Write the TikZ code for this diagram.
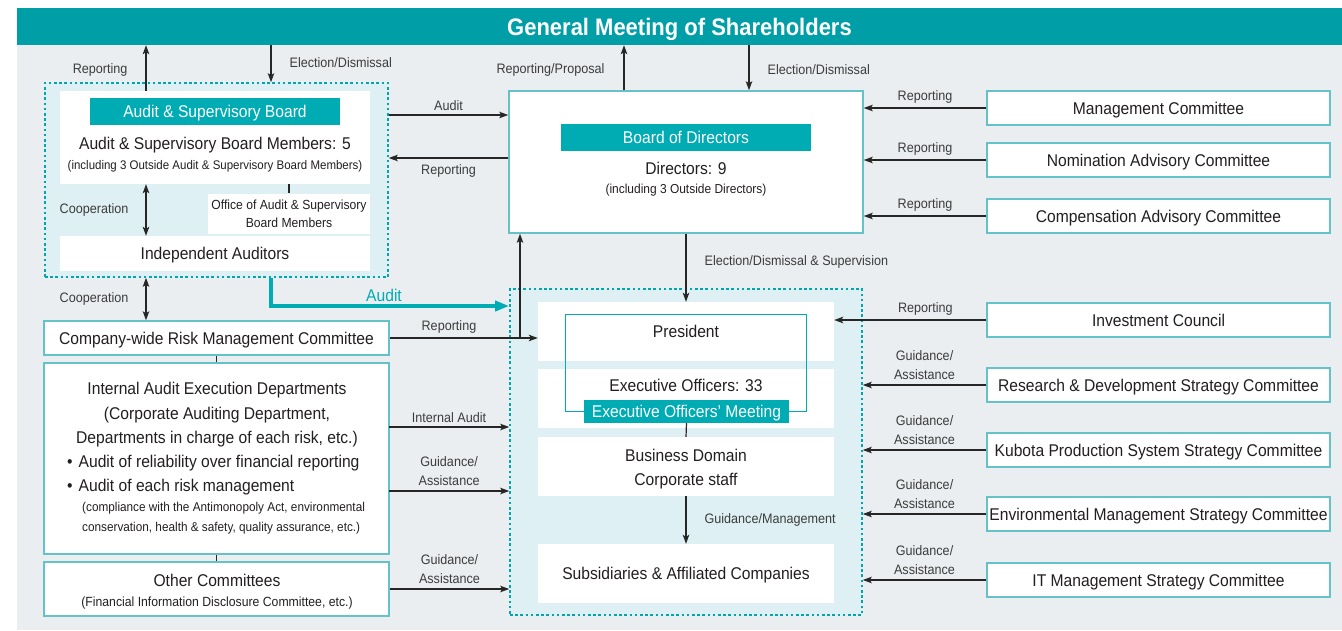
\documentclass[tikz,border=0pt]{standalone}
\usepackage{fontspec}
\setmainfont{Liberation Sans}[FakeStretch=0.92]
\usepackage{tikz}
\usetikzlibrary{arrows.meta, positioning}
\definecolor{bannerteal}{RGB}{0,158,167}
\definecolor{labelteal}{RGB}{0,172,180}
\definecolor{dashteal}{RGB}{0,166,173}
\definecolor{groupfill}{RGB}{222,240,243}
\definecolor{boxline}{RGB}{100,195,201}
\definecolor{bggray}{RGB}{235,238,241}
\definecolor{txtgray}{RGB}{60,60,60}
\definecolor{txtdark}{RGB}{35,31,32}
\newcommand{\txtmain}{\fontsize{17}{24}\selectfont}
\newcommand{\txtlabel}{\fontsize{13.7}{19}\selectfont}
\newcommand{\txtsmall}{\fontsize{13}{20}\selectfont}

\begin{document}
\begin{tikzpicture}[x=1pt, y=-1pt,
    >={Stealth[length=9pt,width=6.5pt,inset=2pt]},
    box/.style={draw=boxline, line width=1.5pt, fill=white, inner sep=0pt, text=txtdark, font=\txtmain,
        align=center, text height=16.5pt, text depth=3.6pt},
    plain/.style={fill=white, inner sep=0pt, text=txtdark, font=\txtmain, align=center,
        text height=16.5pt, text depth=3.6pt},
    grp/.style={draw=dashteal, fill=groupfill, line width=1.6pt, dash pattern=on 2.6pt off 2.6pt, inner sep=0pt},
    tag/.style={fill=labelteal, text=white, font=\txtmain, inner sep=0pt, text height=16pt, text depth=3.6pt},
    txt/.style={inner sep=0pt, text=txtdark, font=\txtmain, text height=16.5pt, text depth=3.6pt},
    smalltxt/.style={inner sep=0pt, text=txtdark, font=\txtsmall, text height=13pt, text depth=3pt},
    lbl/.style={inner sep=0pt, text=txtgray, font=\txtlabel, align=center},
    arr/.style={->, line width=1.2pt, draw=black!85},
    dbl/.style={<->, line width=1.2pt, draw=black!85},
    link/.style={line width=1.2pt, draw=black!85},
    audit/.style={-{Triangle[length=14pt,width=10pt]}, line width=3.5pt, draw=labelteal}]
    \useasboundingbox (0,0) rectangle (1342,630);
    % Background and banner
    \fill[bggray] (17,8) rectangle (1342,630);
    \node[fill=bannerteal, minimum width=1325pt, minimum height=37pt, inner sep=0pt, text=white,
        font=\fontsize{23.9}{24}\selectfont\bfseries, text height=23pt, text depth=5pt] (gms) at (679.5,26.5)
        {General Meeting of Shareholders};

    % Columns and rows for connectors
    \coordinate (colA) at (146,0);
    \coordinate (colB) at (271,0);
    \coordinate (colC) at (520,0);
    \coordinate (colD) at (624,0);
    \coordinate (colE) at (749,0);
    \coordinate (audrow) at (0,115);
    \coordinate (reprow) at (0,158);
    \coordinate (audline) at (0,306);
    \coordinate (iaA) at (389,427);
    \coordinate (iaG) at (389,491);

    % Audit & Supervisory Board group
    \node[grp, minimum width=343pt, minimum height=194pt] (asgrp) at (216.5,180) {};
    \node[plain, minimum width=310pt, minimum height=93pt] (asb) at (215,137.5) {};
    \node[tag, minimum width=250pt, minimum height=27pt] (asbtag) at (215,111.5) {Audit \& Supervisory Board};
    \node[txt] (asbnum) at (215,143) {Audit \& Supervisory Board Members: 5};
    \node[smalltxt, font=\fontsize{12.5}{20}\selectfont] (asbout) at (215,164) {(including 3 Outside Audit \& Supervisory Board Members)};
    \node[fill=white, inner sep=0pt, text=txtdark, align=center, minimum width=162pt, minimum height=40pt,
        font=\fontsize{13.2}{18}\selectfont] (office) at (289,213.5) {Office of Audit \& Supervisory\\Board Members};
    \node[plain, minimum width=310pt, minimum height=35pt] (indep) at (215,253.5) {Independent Auditors};

    % Board of Directors
    \node[box, minimum width=354pt, minimum height=142pt] (bod) at (686,162) {};
    \node[tag, minimum width=250pt, minimum height=27pt] (bodtag) at (686,137.5) {Board of Directors};
    \node[txt] (bodnum) at (686,168) {Directors: 9};
    \node[smalltxt] (bodout) at (686,188) {(including 3 Outside Directors)};

    % Execution group
    \node[grp, minimum width=352pt, minimum height=326pt] (exgrp) at (686,452) {};
    \node[plain, minimum width=296pt, minimum height=59pt] (pres) at (686,331.5) {President};
    \node[plain, minimum width=296pt, minimum height=59pt] (exo) at (686,398.5) {};
    \node[draw=labelteal, line width=1.3pt, minimum width=241pt, minimum height=97pt, inner sep=0pt] (eomframe) at (686,363) {};
    \node[txt] (exonum) at (686,385) {Executive Officers: 33};
    \node[tag, minimum width=205pt, minimum height=23pt] (eom) at (686.5,411.5) {Executive Officers’ Meeting};
    \node[plain, minimum width=296pt, minimum height=59pt] (biz) at (686,466.5) {};
    \node[txt] (biz1) at (686,455) {Business Domain};
    \node[txt] (biz2) at (686,479) {Corporate staff};
    \node[plain, minimum width=296pt, minimum height=59pt] (subs) at (686,573.5) {Subsidiaries \& Affiliated Companies};

    % Left column
    \node[box, minimum width=345pt, minimum height=34pt] (crm) at (216.5,338) {Company-wide Risk Management Committee};
    \node[box, minimum width=345pt, minimum height=191pt] (iaed) at (216.5,458.5) {};
    \node[txt] (ia1) at (217,388) {Internal Audit Execution Departments};
    \node[txt] (ia2) at (217,413) {(Corporate Auditing Department,};
    \node[txt] (ia3) at (217,437) {Departments in charge of each risk, etc.)};
    \node[txt, anchor=west] (ia4) at (67,461) {\textbullet\hspace{6pt}Audit of reliability over financial reporting};
    \node[txt, anchor=west] (ia5) at (67,485) {\textbullet\hspace{6pt}Audit of each risk management};
    \node[smalltxt, font=\fontsize{12.8}{20}\selectfont, anchor=west] (ia6) at (82,506) {(compliance with the Antimonopoly Act, environmental};
    \node[smalltxt, font=\fontsize{12.8}{20}\selectfont, anchor=west] (ia7) at (82,526) {conservation, health \& safety, quality assurance, etc.)};
    \node[box, minimum width=345pt, minimum height=54pt] (other) at (216.5,589) {};
    \node[txt] (oth1) at (217,580) {Other Committees};
    \node[smalltxt, font=\fontsize{13.3}{20}\selectfont] (oth2) at (217,601) {(Financial Information Disclosure Committee, etc.)};

    % Right column
    \foreach \name/\ypos/\title in {mgmt/108/Management Committee, nom/160/Nomination Advisory Committee,
        comp/216/Compensation Advisory Committee, inv/320/Investment Council,
        rnd/385/Research \& Development Strategy Committee, kps/450/Kubota Production System Strategy Committee,
        env/514/Environmental Management Strategy Committee, itm/580/IT Management Strategy Committee} {
        \node[box, minimum width=343pt, minimum height=34pt] (\name) at (1158.5,\ypos) {\title};
    }

    % Connectors, top
    \draw[arr] (asb.north -| colA) -- (gms.south -| colA) node[lbl, pos=0.45, left=18pt] (lrep) {Reporting};
    \draw[arr] (gms.south -| colB) -- (asgrp.north -| colB) node[lbl, pos=0.48, right=18pt] (lele) {Election/Dismissal};
    \draw[arr] (bod.north -| colD) -- (gms.south -| colD) node[lbl, pos=0.45, left=19pt] (brep) {Reporting/Proposal};
    \draw[arr] (gms.south -| colE) -- (bod.north -| colE) node[lbl, pos=0.55, right=18pt] (bele) {Election/Dismissal};

    % Connectors, audit side
    \draw[dbl] (asb.south -| colA) -- (indep.north -| colA) node[lbl, midway, left=17pt] (coop1) {Cooperation};
    \draw[link] (asb.south -| office) -- (office.north);
    \draw[dbl] (asgrp.south -| colA) -- (crm.north -| colA) node[lbl, midway, left=17pt] (coop2) {Cooperation};
    \draw[arr] (asgrp.east |- audrow) -- (bod.west |- audrow) node[lbl, midway, above=4pt] (aud) {Audit};
    \draw[arr] (bod.west |- reprow) -- (asgrp.east |- reprow) node[lbl, midway, below=6pt] (rep) {Reporting};
    \draw[audit] (asgrp.south -| colB) |- (exgrp.west |- audline);
    \node[txt, text=labelteal] (audlbl) at (384,295) {Audit};

    % Connectors, left column
    \draw[link] (crm.south) -- (iaed.north);
    \draw[link] (iaed.south) -- (other.north);
    \draw[arr] (crm.east) -- (crm.east -| pres.west) node[lbl, pos=0.4, above=4pt] (crep) {Reporting};
    \draw[arr] (crm.east -| colC) -- (bod.south -| colC);
    \draw[arr] (iaA) -- (iaA -| exgrp.west) node[lbl, midway, above=4pt] (iaud) {Internal Audit};
    \draw[arr] (iaG) -- (iaG -| exgrp.west) node[lbl, midway, above=5pt] (iga) {Guidance/\\Assistance};
    \draw[arr] (other.east) -- (other.east -| exgrp.west) node[lbl, midway, above=5pt] (oga) {Guidance/\\Assistance};

    % Connectors, execution
    \draw[arr] (bod.south) -- (pres.north) node[lbl, pos=0.42, right=18pt] (edsup) {Election/Dismissal \& Supervision};
    \draw[link] (eom.south) -- (biz.north);
    \draw[arr] (biz.south) -- (subs.north) node[lbl, midway, right=18pt] (gman) {Guidance/Management};

    % Connectors, right column
    \foreach \name in {mgmt, nom, comp} {
        \draw[arr] (\name.west) -- (\name.west -| bod.east) node[lbl, midway, above=4pt] (rep\name) {Reporting};
    }
    \draw[arr] (inv.west) -- (inv.west -| pres.east) node[lbl, pos=0.4, above=4pt] (repinv) {Reporting};
    \foreach \name in {rnd, kps, env, itm} {
        \draw[arr] (\name.west) -- (\name.west -| exgrp.east) node[lbl, midway, above=5pt] (ga\name) {Guidance/\\Assistance};
    }
\end{tikzpicture}
\end{document}
